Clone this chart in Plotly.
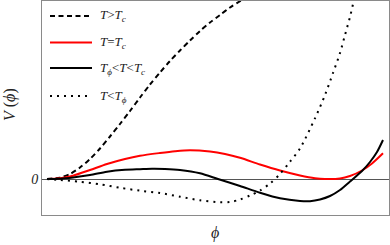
import plotly.graph_objects as go

# ---- data (phi in arbitrary units, V in arbitrary units) ----
phi_above = [0.00, 0.13, 0.23, 0.33, 0.43, 0.53, 0.63, 0.73, 0.83, 0.93, 1.03, 1.13, 1.23, 1.33, 1.43, 1.53, 1.63, 1.73, 1.83, 1.95, 2.13]
V_above = [0.00, 0.14, 0.50, 1.15, 2.00, 3.05, 4.25, 5.50, 6.80, 8.15, 9.45, 10.65, 11.80, 12.85, 13.85, 14.80, 15.65, 16.40, 17.15, 17.90, 19.00]

phi_crit = [0.00, 0.13, 0.26, 0.43, 0.60, 0.78, 0.93, 1.13, 1.28, 1.43, 1.63, 1.78, 1.93, 2.13, 2.33, 2.53, 2.68, 2.78, 2.93, 3.03, 3.15, 3.25, 3.36]
V_crit = [0.00, 0.07, 0.33, 0.90, 1.50, 2.00, 2.32, 2.60, 2.78, 2.88, 2.75, 2.50, 2.12, 1.45, 0.85, 0.36, 0.08, 0.00, 0.05, 0.30, 0.85, 1.55, 2.57]

phi_mid = [0.00, 0.13, 0.26, 0.43, 0.60, 0.78, 0.93, 1.05, 1.18, 1.33, 1.53, 1.71, 1.93, 2.13, 2.33, 2.53, 2.63, 2.73, 2.83, 2.93, 3.03, 3.15, 3.23, 3.30, 3.36]
V_mid = [0.00, 0.02, 0.15, 0.40, 0.73, 0.92, 0.98, 1.02, 1.00, 0.90, 0.57, 0.00, -0.70, -1.37, -1.93, -2.20, -2.22, -2.05, -1.70, -1.10, -0.25, 0.80, 1.70, 2.70, 3.90]

phi_below = [0.00, 0.13, 0.33, 0.53, 0.73, 0.93, 1.13, 1.33, 1.53, 1.73, 1.83, 1.93, 2.03, 2.13, 2.23, 2.33, 2.43, 2.53, 2.68, 2.78, 2.86, 2.93, 2.98, 3.03, 3.07, 3.11]
V_below = [0.00, -0.10, -0.27, -0.53, -0.88, -1.17, -1.40, -1.77, -2.13, -2.33, -2.30, -2.05, -1.65, -1.15, -0.45, 0.50, 1.73, 3.05, 6.07, 8.40, 10.60, 12.60, 14.40, 16.20, 17.90, 19.30]

labels = ["<i>T</i>&gt;<i>T<sub>c</sub></i>",
          "<i>T</i>=<i>T<sub>c</sub></i>",
          "<i>T<sub>ϕ</sub></i>&lt;<i>T</i>&lt;<i>T<sub>c</sub></i>",
          "<i>T</i>&lt;<i>T<sub>ϕ</sub></i>"]
y_tick_vals = [0]
y_tick_text = ["<i>0</i>"]

W, H = 390, 245
L, R, T, B = 42, 1, 1, 30
PW, PH = W - L - R, H - T - B

def px(x):
    return (x - L) / PW

def py(y):
    return (H - B - y) / PH

styles = [
    dict(color="black", width=2, dash="5px,3.5px"),
    dict(color="#ff0000", width=2, dash="solid"),
    dict(color="black", width=2, dash="solid"),
    dict(color="black", width=2, dash="2px,5px"),
]
series = [(phi_above, V_above), (phi_crit, V_crit), (phi_mid, V_mid), (phi_below, V_below)]

fig = go.Figure()
for (xs, ys), st in zip(series, styles):
    fig.add_trace(go.Scatter(x=xs, y=ys, mode="lines",
                             line=dict(shape="spline", smoothing=0.8, **st),
                             showlegend=False, hoverinfo="skip"))

# legend drawn by hand
leg_y = [16, 42.5, 68, 96]
shapes = []
annotations = []
for lab, st, yy in zip(labels, styles, leg_y):
    shapes.append(dict(type="line", xref="paper", yref="paper",
                       x0=px(50), x1=px(92), y0=py(yy), y1=py(yy),
                       line=dict(color=st["color"], width=st["width"], dash=st["dash"])))
    annotations.append(dict(xref="paper", yref="paper", x=px(98), y=py(yy),
                            xanchor="left", yanchor="middle", showarrow=False,
                            text=lab, font=dict(family="Liberation Serif", size=13, color="#222")))

annotations.append(dict(xref="paper", yref="paper", x=px(10), y=py(105),
                        xanchor="center", yanchor="middle", showarrow=False, textangle=-90,
                        text="<i>V</i> (<i>ϕ</i>)", font=dict(family="Liberation Serif", size=16, color="#222")))
annotations.append(dict(xref="paper", yref="paper", x=px(215), y=py(233),
                        xanchor="center", yanchor="middle", showarrow=False,
                        text="<i>ϕ</i>", font=dict(family="Liberation Serif", size=16, color="#222")))

fig.update_layout(
    width=W, height=H,
    margin=dict(l=L, r=R, t=T, b=B),
    paper_bgcolor="white", plot_bgcolor="white",
    shapes=shapes, annotations=annotations,
    xaxis=dict(range=[-0.05, 3.42], showgrid=False, zeroline=False, showticklabels=False,
               ticks="", showline=True, linecolor="#8a8a8a", linewidth=1, mirror=True, fixedrange=True),
    yaxis=dict(range=[-3.6, 17.8], showgrid=False, zeroline=True, zerolinecolor="#555555",
               zerolinewidth=1, tickvals=y_tick_vals, ticktext=y_tick_text, ticks="",
               tickfont=dict(family="Liberation Serif", size=14, color="#222"),
               showline=True, linecolor="#8a8a8a", linewidth=1, mirror=True, fixedrange=True),
)

fig.write_html("out.html", config={"displayModeBar": False},
               post_script="document.body.style.margin='0';document.body.style.padding='0';")
